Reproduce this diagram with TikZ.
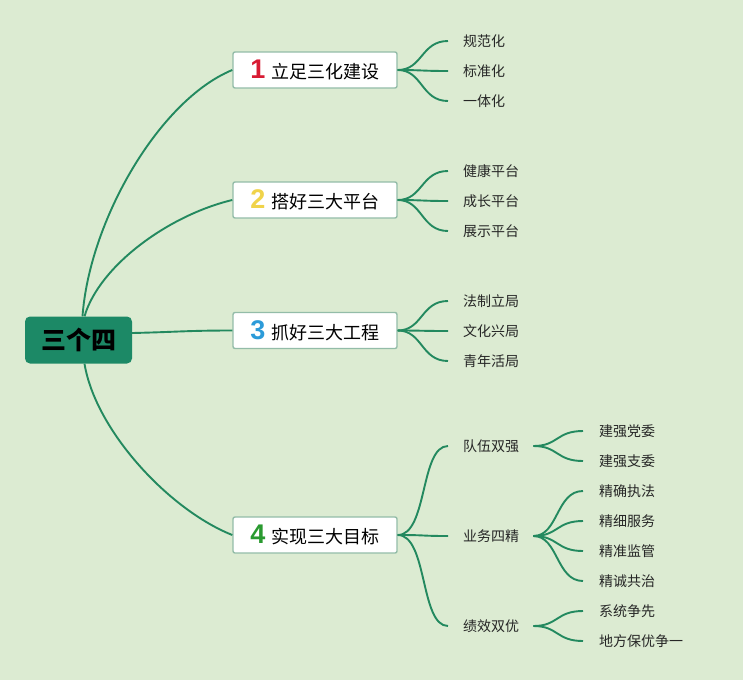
\documentclass[tikz,border=0pt]{standalone}
\usepackage{fontspec}
\setmainfont{Noto Sans CJK SC}
\newfontfamily\numfont{Liberation Sans}
\definecolor{bg}{HTML}{DCEBD2}
\definecolor{linkc}{HTML}{23895F}
\definecolor{rootc}{HTML}{1C8966}
\definecolor{boxline}{HTML}{93BCA8}
\definecolor{nred}{HTML}{D81B33}
\definecolor{nyellow}{HTML}{F0D34A}
\definecolor{nblue}{HTML}{2C9BD9}
\definecolor{ngreen}{HTML}{2A9A30}
\newcommand{\bignum}[2]{{\numfont\bfseries\fontsize{27}{27}\selectfont\color{#1}#2}}
\begin{document}
\begin{tikzpicture}[x=1pt,y=-1pt,
  rootbox/.style={fill=rootc, rounded corners=5pt, minimum width=107pt, minimum height=47pt, inner sep=0pt, font=\bfseries\fontsize{25}{25}\selectfont, text=black},
  branchbox/.style={draw=boxline, line width=1.4pt, fill=white, rounded corners=2pt, minimum width=164pt, minimum height=36pt, inner sep=0pt, font=\fontsize{18}{18}\selectfont, text=black},
  leaf/.style={anchor=west, inner sep=0pt, font=\fontsize{14}{14}\selectfont, text=black!85},
  link/.style={draw=linkc, line width=1.9pt}
]
\fill[bg] (0,0) rectangle (743,680);
\useasboundingbox (0,0) rectangle (743,680);

\node[rootbox] (root) at (78.5,340) {三个四};

\node[branchbox] (b1) at (315,70) {\bignum{nred}{1}\hspace{6pt}立足三化建设};
\node[branchbox] (b2) at (315,200) {\bignum{nyellow}{2}\hspace{6pt}搭好三大平台};
\node[branchbox] (b3) at (315,330.5) {\bignum{nblue}{3}\hspace{6pt}抓好三大工程};
\node[branchbox] (b4) at (315,535) {\bignum{ngreen}{4}\hspace{6pt}实现三大目标};

\node[leaf] (l11) at (463,41) {规范化};
\node[leaf] (l12) at (463,71) {标准化};
\node[leaf] (l13) at (463,101) {一体化};
\node[leaf] (l21) at (463,171) {健康平台};
\node[leaf] (l22) at (463,201) {成长平台};
\node[leaf] (l23) at (463,231) {展示平台};
\node[leaf] (l31) at (463,301) {法制立局};
\node[leaf] (l32) at (463,331) {文化兴局};
\node[leaf] (l33) at (463,361) {青年活局};

\node[leaf] (s1) at (463,446) {队伍双强};
\node[leaf] (s2) at (463,536) {业务四精};
\node[leaf] (s3) at (463,626) {绩效双优};

\node[leaf] (t11) at (599,431) {建强党委};
\node[leaf] (t12) at (599,461) {建强支委};
\node[leaf] (t21) at (599,491) {精确执法};
\node[leaf] (t22) at (599,521) {精细服务};
\node[leaf] (t23) at (599,551) {精准监管};
\node[leaf] (t24) at (599,581) {精诚共治};
\node[leaf] (t31) at (599,611) {系统争先};
\node[leaf] (t32) at (599,641) {地方保优争一};

% root to branches
\draw[link] ([xshift=4pt]root.north) .. controls +(7,-96) and +(-73,30) .. (b1.west);
\draw[link] ([xshift=6pt]root.north) .. controls +(15,-51) and +(-63,15) .. (b2.west);
\draw[link] ([yshift=7pt]root.east) .. controls +(45,-1) and +(-45,0) .. (b3.west);
\draw[link] ([xshift=6pt]root.south) .. controls +(11,67) and +(-63,-25) .. (b4.west);

% branch to leaves
\foreach \b/\l in {b1/l11,b1/l12,b1/l13,b2/l21,b2/l22,b2/l23,b3/l31,b3/l32,b3/l33}
  \draw[link] (\b.east) .. controls +(25,0) and +(-27,0) .. ([xshift=-15pt]\l.west);

\foreach \l in {s1,s2,s3}
  \draw[link] (b4.east) .. controls +(30,0) and +(-28,0) .. ([xshift=-15pt]\l.west);

\foreach \s/\t in {s1/t11,s1/t12,s2/t21,s2/t22,s2/t23,s2/t24,s3/t31,s3/t32}
  \draw[link] ([xshift=14pt]\s.east) .. controls +(25,0) and +(-27,0) .. ([xshift=-16pt]\t.west);
\end{tikzpicture}
\end{document}
